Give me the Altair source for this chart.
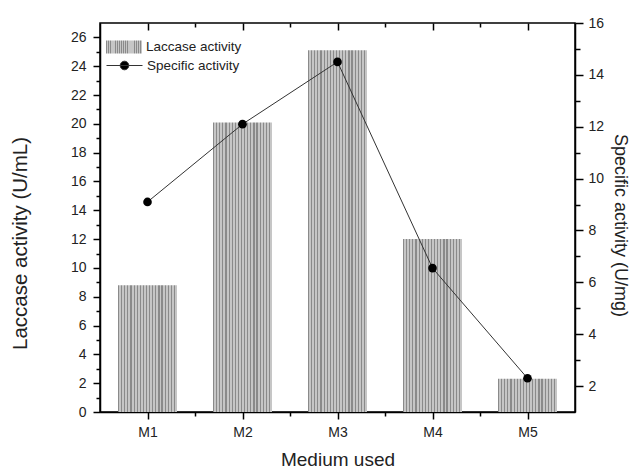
import altair as alt
import pandas as pd

categories = ["M1", "M2", "M3", "M4", "M5"]
laccase_activity = [8.8, 20.1, 25.1, 12.0, 2.3]
specific_activity = [9.1, 12.1, 14.5, 6.55, 2.3]

df = pd.DataFrame({
    "idx": list(range(1, len(categories) + 1)),
    "cat": categories,
    "lac": laccase_activity,
    "spec": specific_activity,
    "l1": ["Laccase activity"] * len(categories),
    "l2": ["Specific activity"] * len(categories),
})

FONT = "Liberation Sans"
N = 19
stops = []
for k in range(N):
    a = k / N
    b = (k + 0.38) / N
    c = (k + 1) / N
    stops += [
        alt.GradientStop(offset=a, color="#8a8a8a"),
        alt.GradientStop(offset=b, color="#8a8a8a"),
        alt.GradientStop(offset=b, color="#c6c6c6"),
        alt.GradientStop(offset=c, color="#c6c6c6"),
    ]
stripe = alt.LinearGradient(gradient="linear", x1=0, x2=1, y1=0, y2=0, stops=stops)

xmajor = [1, 2, 3, 4, 5]
xminor = [1.5, 2.5, 3.5, 4.5]
xscale = alt.Scale(domain=[0.5, 5.5], nice=False, zero=False, padding=0)
lscale = alt.Scale(domain=[0, 27], nice=False, zero=False, padding=0)
rscale = alt.Scale(domain=[1, 16], nice=False, zero=False, padding=0)

bars = alt.Chart(df).mark_bar(size=59, fill=stripe).encode(
    x=alt.X("idx:Q", scale=xscale, title="Medium used",
            axis=alt.Axis(orient="bottom", values=xmajor, tickSize=7,
                          labelExpr="'M' + datum.value",
                          labelPadding=6, titlePadding=11, grid=False)),
    y=alt.Y("lac:Q", scale=lscale, title="Laccase activity (U/mL)",
            axis=alt.Axis(orient="left", values=list(range(0, 27, 2)), tickSize=7,
                          titleAngle=270, titlePadding=40, labelPadding=7, titleY=220,
                          titleFontSize=20.5, grid=False)),
    opacity=alt.Opacity("l1:N", scale=alt.Scale(range=[1]), title=None,
                        legend=alt.Legend(orient="none", legendX=6, legendY=6,
                                          symbolType="M-1,-0.36H1V0.36H-1Z",
                                          symbolSize=1296, symbolStrokeWidth=0,
                                          labelFont=FONT, labelFontSize=13.5, labelColor="#222",
                                          labelOffset=4)),
)

minor1 = alt.Chart(df).mark_point(opacity=0).encode(
    x=alt.X("idx:Q", scale=xscale, title=None,
            axis=alt.Axis(orient="bottom", values=xminor, tickSize=4, labels=False,
                          domain=False, grid=False)),
    y=alt.Y("lac:Q", scale=lscale, title=None,
            axis=alt.Axis(orient="left", values=list(range(1, 27, 2)), tickSize=4,
                          labels=False, domain=False, grid=False)),
)

line = alt.Chart(df).mark_line(
    strokeWidth=1,
    point=alt.OverlayMarkDef(filled=True, fill="black", size=75, strokeWidth=0),
).encode(
    x=alt.X("idx:Q", scale=xscale, title=None,
            axis=alt.Axis(orient="top", values=xmajor, tickSize=7, labels=False,
                          domain=False, offset=-7, grid=False)),
    y=alt.Y("spec:Q", scale=rscale, title="Specific activity (U/mg)",
            axis=alt.Axis(orient="right", values=list(range(2, 17, 2)), tickSize=8,
                          titleAngle=90, titlePadding=7, labelPadding=5, titleY=202,
                          titleFontSize=18, grid=False)),
    stroke=alt.Stroke("l2:N", scale=alt.Scale(range=["#333333"]), title=None,
                      legend=alt.Legend(orient="none", legendX=6, legendY=24,
                                        symbolType="M-1,0H1M-0.24,0A0.24,0.24 0 1,1 0.24,0A0.24,0.24 0 1,1 -0.24,0Z",
                                        symbolSize=1296, symbolFillColor="black",
                                        symbolStrokeWidth=1,
                                        labelFont=FONT, labelFontSize=13.5, labelColor="#222",
                                        labelOffset=4)),
)

minor2 = alt.Chart(df).mark_point(opacity=0).encode(
    x=alt.X("idx:Q", scale=xscale, title=None,
            axis=alt.Axis(orient="top", values=xminor, tickSize=4, labels=False,
                          domain=False, offset=-4, grid=False)),
    y=alt.Y("spec:Q", scale=rscale, title=None,
            axis=alt.Axis(orient="right", values=list(range(3, 17, 2)), tickSize=5,
                          labels=False, domain=False, grid=False)),
)

chart = alt.layer(bars, minor1, line, minor2).resolve_scale(
    x="independent", y="independent", opacity="independent", stroke="independent"
).properties(
    width=475, height=389, padding={"left": 2, "top": 8, "right": 2, "bottom": 0}
).configure_view(
    stroke="black", strokeWidth=1.5
).configure_axis(
    domainColor="black", domainWidth=1.5, tickColor="black", tickWidth=1.5,
    labelFont=FONT, labelFontSize=14, labelColor="#222",
    titleFont=FONT, titleFontSize=19, titleFontWeight="normal", titleColor="#222",
)

chart.save("out.html", embed_options={"renderer": "svg", "actions": False})
